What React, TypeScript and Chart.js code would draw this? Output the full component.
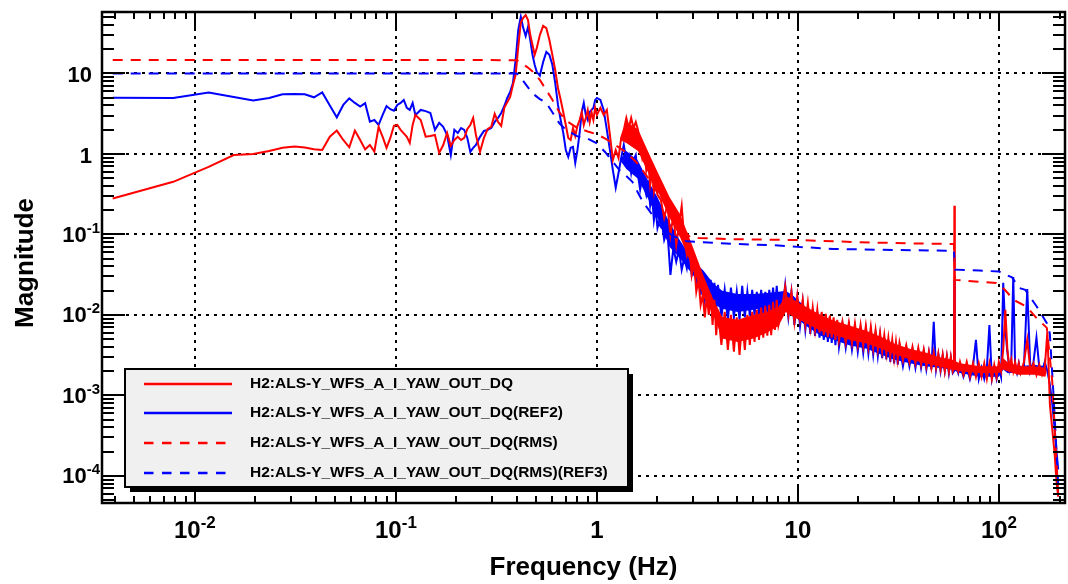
import { useEffect, useRef } from 'react';
import { Chart, registerables } from 'chart.js';

Chart.register(...registerables);

// ---------------- data ----------------
const X_MIN = 0.00345;
const X_MAX = 213;
const Y_MIN = 4.6e-5;
const Y_MAX = 58;

const xMajorTicks = [0.01, 0.1, 1, 10, 100];
const xTickBase = ['10', '10', '1', '10', '10'];
const xTickExp = ['-2', '-1', '', '', '2'];
const yMajorTicks = [1e-4, 1e-3, 1e-2, 1e-1, 1, 10];
const yTickBase = ['10', '10', '10', '10', '1', '10'];
const yTickExp = ['-4', '-3', '-2', '-1', '', ''];

const xTitle = 'Frequency (Hz)';
const yTitle = 'Magnitude';

const legendLabels = [
  'H2:ALS-Y_WFS_A_I_YAW_OUT_DQ',
  'H2:ALS-Y_WFS_A_I_YAW_OUT_DQ(REF2)',
  'H2:ALS-Y_WFS_A_I_YAW_OUT_DQ(RMS)',
  'H2:ALS-Y_WFS_A_I_YAW_OUT_DQ(RMS)(REF3)',
];

// shared frequency bins of the two spectra (Hz)
const freqHz = [
  0.0039, 0.0078, 0.0117, 0.0156, 0.0195, 0.0234, 0.0273, 0.0313, 0.0352, 0.0391,
  0.043, 0.0469, 0.0508, 0.0547, 0.0586, 0.0625, 0.0664, 0.0703, 0.0742, 0.0781,
  0.082, 0.0859, 0.0898, 0.0938, 0.0977, 0.1016, 0.1055, 0.1094, 0.1133, 0.1172,
  0.1211, 0.125,
  0.1328, 0.1406, 0.1484, 0.1563, 0.1641, 0.1719, 0.1797, 0.1875,
  0.1953, 0.2031, 0.2109, 0.2188, 0.2266, 0.2344, 0.2422, 0.25,
  0.262, 0.274, 0.286, 0.298, 0.31, 0.322, 0.334, 0.346, 0.358, 0.37,
  0.382, 0.394, 0.406, 0.418, 0.43, 0.442, 0.454, 0.466, 0.478, 0.49, 0.502,
  0.52, 0.54, 0.56, 0.58, 0.6, 0.62, 0.64, 0.66, 0.68, 0.7,
  0.72, 0.74, 0.76, 0.78, 0.8, 0.82, 0.84, 0.86, 0.88, 0.9,
  0.92, 0.94, 0.96, 0.98, 1.0,
  1.04, 1.08, 1.12, 1.16, 1.2, 1.24, 1.28, 1.32, 1.36, 1.4,
  1.44, 1.48, 1.52, 1.56, 1.6, 1.64, 1.68, 1.72, 1.76, 1.8,
  1.84, 1.88, 1.92, 1.96, 2.0,
  2.08, 2.16, 2.24, 2.32, 2.4, 2.48, 2.56, 2.64, 2.72, 2.8,
  2.88, 2.96, 3.04, 3.12, 3.2, 3.28, 3.36, 3.44, 3.52, 3.6,
  3.68, 3.76, 3.84, 3.92, 4.0,
  4.16, 4.32, 4.48, 4.64, 4.8, 4.96, 5.12, 5.28, 5.44, 5.6,
  5.76, 5.92, 6.08, 6.24, 6.4, 6.56, 6.72, 6.88, 7.04, 7.2,
  7.36, 7.52, 7.68, 7.84, 8.0,
  8.32, 8.64, 8.96, 9.28, 9.6, 9.92, 10.24, 10.56, 10.88, 11.2,
  11.52, 11.84, 12.16, 12.48, 12.8, 13.12, 13.44, 13.76, 14.08, 14.4,
  14.72, 15.04, 15.36, 15.68, 16.0,
  16.64, 17.28, 17.92, 18.56, 19.2, 19.84, 20.48, 21.12, 21.76, 22.4,
  23.04, 23.68, 24.32, 24.96, 25.6, 26.24, 26.88, 27.52, 28.16, 28.8,
  29.44, 30.08, 30.72, 31.36, 32.0,
  33.28, 34.56, 35.84, 37.12, 38.4, 39.68, 40.96, 42.24, 43.52, 44.8,
  46.08, 47.36, 48.64, 49.92, 51.2, 52.48, 53.76, 55.04, 56.32, 57.6,
  58.88,
  59.7, 60.0, 60.3, 61.44, 62.72, 64.0,
  66.56, 69.12, 71.68, 74.24, 76.8, 79.36, 81.92, 84.48, 87.04, 89.6,
  92.16, 94.72, 97.28, 99.84, 102.4, 104.96, 107.52, 110.08, 112.64, 115.2,
  117.76, 120.32, 122.88, 125.44, 128.0,
  133.12, 138.24, 143.36, 148.48, 153.6, 158.72, 163.84, 168.96, 174.08, 179.2,
  184.32, 189.44, 193.0, 197.0,
];

// H2:ALS-Y_WFS_A_I_YAW_OUT_DQ (red, solid)
const redMag = [
  0.28, 0.45, 0.69, 0.97, 1.0, 1.09, 1.19, 1.24, 1.2, 1.14,
  1.12, 1.64, 1.95, 1.49, 1.21, 1.95, 1.49, 1.14, 1.29, 1.07,
  2.17, 1.63, 1.19, 1.58, 2.23, 2.29, 1.99, 1.8, 1.63, 1.37,
  2.29, 3.05,
  2.64, 1.64, 1.67, 1.72, 1.03, 1.29, 1.82, 1.26,
  1.49, 1.63, 1.49, 1.58, 2.04, 2.29, 2.8, 1.72,
  1.06, 1.58, 2.04, 2.17, 3.14, 2.5, 2.23, 3.73, 4.4, 5.1,
  7.2, 9.6, 21.3, 43, 49, 53, 46, 30, 22.6, 17, 20.7,
  30, 39, 36.6, 26, 17, 11, 6.6, 4.7, 3.3, 2.29,
  1.58, 1.49, 2.1, 1.67, 2.23, 2.64, 3.3, 2.29, 2.8, 3.52,
  2.5, 3.3, 2.64, 3.73, 3.05,
  3.73, 3.05, 3.52, 1.72, 0.84, 1.12, 0.89, 1.58, 1.99, 2.8,
  2.1, 2.8, 2.1, 2.5, 1.99, 1.29, 0.89, 1.12, 0.63, 0.84,
  0.41, 0.58, 0.34, 0.475, 0.31,
  0.268, 0.16, 0.233, 0.098, 0.175, 0.074, 0.131, 0.226, 0.0855, 0.0557,
  0.074, 0.0314, 0.0457, 0.0194, 0.0272, 0.0133, 0.0177, 0.0093, 0.0172, 0.01,
  0.0177, 0.0075, 0.0154, 0.0056, 0.0116,
  0.00424, 0.0109, 0.00367, 0.01, 0.0035, 0.0093, 0.00318, 0.0087, 0.00367, 0.01,
  0.00424, 0.0109, 0.0046, 0.0116, 0.0049, 0.0123, 0.0052, 0.013, 0.0055, 0.0133,
  0.0056, 0.0145, 0.0065, 0.0154, 0.0075,
  0.0116, 0.0224, 0.01, 0.0194, 0.0082, 0.0172, 0.0087, 0.0154, 0.0075, 0.014,
  0.0069, 0.0123, 0.0065, 0.0116, 0.006, 0.0109, 0.0056, 0.0103, 0.0053, 0.0098,
  0.0052, 0.0093, 0.0049, 0.0087, 0.0048,
  0.0082, 0.0045, 0.008, 0.0044, 0.0078, 0.0042, 0.0075, 0.0041, 0.0073, 0.004,
  0.0071, 0.0038, 0.0065, 0.0037, 0.006, 0.0035, 0.0056, 0.0033, 0.0052, 0.0031,
  0.0049, 0.0029, 0.0046, 0.0028, 0.0045,
  0.0027, 0.0042, 0.0026, 0.004, 0.0025, 0.0039, 0.0024, 0.0037, 0.0023, 0.0035,
  0.0022, 0.0034, 0.0022, 0.0033, 0.0021, 0.0032, 0.002, 0.0031, 0.002, 0.003,
  0.002,
  0.0022, 0.227, 0.0024, 0.0024, 0.002, 0.0026,
  0.0018, 0.0026, 0.0017, 0.0025, 0.0017, 0.0025, 0.0017, 0.0025, 0.0016, 0.0025,
  0.0016, 0.0024, 0.0017, 0.0026, 0.002, 0.0037, 0.0116, 0.0037, 0.0022, 0.0028,
  0.002, 0.0026, 0.002, 0.0025, 0.0019,
  0.0026, 0.0049, 0.002, 0.0025, 0.0018, 0.0024, 0.0018, 0.0022, 0.0062, 0.00076,
  0.00037, 0.00018, 0.000088, 0.000055,
];

// H2:ALS-Y_WFS_A_I_YAW_OUT_DQ(REF2) (blue, solid)
const blueMag = [
  5.0, 4.95, 5.8, 5.1, 4.6, 4.95, 5.5, 5.55, 5.5, 5.05,
  5.8, 4.0, 2.85, 4.06, 4.9, 4.3, 3.87, 4.27, 2.52, 2.64,
  2.29, 3.05, 3.94, 3.6, 3.45, 4.06, 4.3, 4.69, 3.73, 3.52,
  4.3, 3.05,
  3.52, 3.4, 3.23, 1.99, 2.43, 2.17, 1.72, 0.97,
  1.99, 1.82, 2.1, 1.99, 1.58, 1.06, 1.19, 1.29,
  1.63, 1.93, 1.99, 2.1, 2.5, 2.8, 3.23, 3.94, 4.96, 5.9,
  7.6, 14.7, 34.7, 50.5, 36.6, 29.2, 37.8, 26, 17, 12.8, 10.4,
  9.4, 13.9, 18.5, 17, 12.8, 7.6, 4.06, 2.64, 1.82, 1.12,
  0.92, 1.19, 1.22, 0.77, 1.12, 1.82, 3.3, 4.3, 3.05, 2.64,
  3.3, 3.52, 3.73, 4.69, 4.96,
  4.69, 3.52, 1.99, 1.12, 0.63, 0.38, 0.58, 0.89, 1.29, 0.84,
  0.97, 0.58, 0.84, 0.97, 0.55, 0.36, 0.5, 0.4, 0.31, 0.41,
  0.23, 0.31, 0.15, 0.21, 0.12,
  0.175, 0.0855, 0.114, 0.0314, 0.068, 0.0457, 0.0643, 0.0363, 0.051, 0.038,
  0.0643, 0.0314, 0.0418, 0.025, 0.0363, 0.0177, 0.0314, 0.0154, 0.0236, 0.0133,
  0.0272, 0.0133, 0.025, 0.0116, 0.0236,
  0.0093, 0.0205, 0.0087, 0.0218, 0.0093, 0.0194, 0.0087, 0.023, 0.0093, 0.0194,
  0.0098, 0.0205, 0.0098, 0.0194, 0.0103, 0.0205, 0.0103, 0.0194, 0.0109, 0.0205,
  0.0109, 0.0218, 0.0116, 0.023, 0.0123,
  0.01, 0.0236, 0.0093, 0.0194, 0.0075, 0.0163, 0.0073, 0.0145, 0.0065, 0.0126,
  0.0058, 0.0116, 0.0055, 0.0109, 0.0052, 0.0103, 0.0049, 0.0098, 0.0046, 0.0093,
  0.0045, 0.0087, 0.0042, 0.0082, 0.004,
  0.0078, 0.0039, 0.0073, 0.0037, 0.0069, 0.0035, 0.0067, 0.0034, 0.0065, 0.0033,
  0.0062, 0.0032, 0.0058, 0.0031, 0.0055, 0.0029, 0.0052, 0.0028, 0.0049, 0.0026,
  0.0046, 0.0025, 0.0044, 0.0024, 0.0041,
  0.0023, 0.0039, 0.0023, 0.0037, 0.0022, 0.0036, 0.0022, 0.0035, 0.0021, 0.0034,
  0.0021, 0.0082, 0.0021, 0.0032, 0.002, 0.0031, 0.002, 0.003, 0.0019, 0.0029,
  0.0019,
  0.002, 0.027, 0.0022, 0.0023, 0.0019, 0.0024,
  0.0017, 0.0023, 0.0016, 0.0023, 0.0049, 0.0016, 0.0022, 0.0016, 0.0022, 0.0075,
  0.0016, 0.0022, 0.0016, 0.0022, 0.0017, 0.025, 0.0065, 0.0035, 0.0021, 0.0028,
  0.0295, 0.0023, 0.0019, 0.0025, 0.0019,
  0.0023, 0.021, 0.002, 0.0026, 0.0052, 0.0022, 0.002, 0.0026, 0.002, 0.00135,
  0.00076, 0.00037, 0.00021, 0.00012,
];

// dense core of the noise of each spectrum (upper / lower edge)
const bandFreq = [
  1.3, 1.4, 1.6, 1.8, 2.0, 2.3, 2.6, 3.0, 3.4, 3.8, 4.2, 5.0, 6.0, 7.0, 8.0, 8.7, 9.5, 11,
  13, 15, 18, 22, 26, 30, 36, 43, 50, 58, 64, 80, 100, 105, 110, 125, 150, 170, 173,
];
const redUpper = [
  1.49, 2.5, 2.04, 1.06, 0.6, 0.29, 0.175, 0.07, 0.03, 0.0154, 0.0094, 0.0087, 0.01, 0.0109,
  0.0125, 0.0172, 0.0154, 0.0125, 0.01, 0.0085, 0.0074, 0.0063, 0.0053, 0.0044, 0.0038,
  0.0034, 0.003, 0.0028, 0.0025, 0.0023, 0.0023, 0.0029, 0.0026, 0.0023, 0.0023, 0.0022,
  0.002,
];
const redLower = [
  1.49, 1.37, 1.09, 0.58, 0.35, 0.16, 0.09, 0.038, 0.0163, 0.01, 0.0051, 0.0046, 0.0051,
  0.006, 0.0073, 0.0109, 0.0094, 0.0079, 0.0063, 0.0057, 0.0049, 0.0044, 0.0038, 0.0033,
  0.0028, 0.0025, 0.0023, 0.0021, 0.002, 0.0019, 0.0019, 0.0021, 0.002, 0.0018, 0.0018,
  0.0017, 0.002,
];
const blueUpper = [
  0.84, 1.09, 0.82, 0.46, 0.29, 0.139, 0.083, 0.048, 0.035, 0.0243, 0.02, 0.0182, 0.0182,
  0.0187, 0.0194, 0.02, 0.0172, 0.0122, 0.0093, 0.008, 0.0063, 0.0057, 0.0048, 0.004,
  0.0035, 0.0032, 0.0029, 0.0028, 0.0023, 0.0021, 0.0021, 0.0029, 0.0024, 0.0023, 0.0024,
  0.0023, 0.0021,
];
const blueLower = [
  0.84, 0.65, 0.49, 0.276, 0.16, 0.07, 0.05, 0.0314, 0.021, 0.0137, 0.0119, 0.0109, 0.0116,
  0.0125, 0.0133, 0.0119, 0.0098, 0.0073, 0.0055, 0.0049, 0.0042, 0.0038, 0.0032, 0.0028,
  0.0025, 0.0023, 0.0022, 0.0021, 0.0019, 0.0017, 0.0017, 0.0021, 0.0019, 0.0019, 0.002,
  0.0019, 0.0021,
];

// RMS (red, dashed)
const redRmsFreq = [
  0.0039, 0.2, 0.4, 0.42, 0.45, 0.48, 0.52, 0.56, 0.6, 0.65, 0.7, 0.8, 0.9, 1.0, 1.1, 1.2,
  1.4, 1.6, 1.8, 2.0, 2.3, 2.6, 2.9, 3.2, 5, 10, 20, 40, 59.7, 60.3, 97, 107, 118, 137, 154,
  173, 184, 197,
];
const redRmsMag = [
  14.7, 14.7, 14.6, 13.5, 12.0, 10.5, 8.3, 6.2, 4.7, 3.3, 2.6, 2.1, 1.9, 1.75, 1.55, 1.35,
  1.05, 0.75, 0.5, 0.33, 0.2, 0.13, 0.092, 0.09, 0.087, 0.085, 0.08, 0.077, 0.076, 0.0272,
  0.0249, 0.0205, 0.0154, 0.0127, 0.0091, 0.0069, 0.0015, 0.00006,
];

// RMS (REF3) (blue, dashed)
const blueRmsFreq = [
  0.0039, 0.2, 0.4, 0.42, 0.45, 0.48, 0.52, 0.56, 0.6, 0.65, 0.7, 0.8, 0.9, 1.0, 1.1, 1.2,
  1.3, 1.4, 1.5, 1.6, 1.7, 1.9, 2.1, 2.4, 2.8, 5, 8, 10, 15, 30, 59.7, 60.3, 80, 100, 110,
  116, 126, 135, 154, 173, 179, 186, 197,
];
const blueRmsMag = [
  10.0, 10.0, 10.0, 8.7, 6.9, 5.6, 4.8, 4.3, 3.3, 2.4, 2.0, 1.65, 1.55, 1.35, 1.05, 0.8,
  0.62, 0.53, 0.45, 0.33, 0.25, 0.17, 0.12, 0.095, 0.082, 0.076, 0.073, 0.07, 0.066, 0.064,
  0.0625, 0.0365, 0.0355, 0.0346, 0.031, 0.0294, 0.0216, 0.0205, 0.0127, 0.0079, 0.0059,
  0.0012, 0.00008,
];

// ---------------- drawing helpers ----------------
const FONT = '"Liberation Sans", Arial, Helvetica, sans-serif';
const RED = '#ff0000';
const BLUE = '#0000ff';
const CLEAR = 'rgba(0,0,0,0)';

function pts(fs: number[], vs: number[]) {
  return fs.map((f, i) => ({ x: f, y: vs[i] }));
}

function logTicks(min: number, max: number) {
  const out: { v: number; major: boolean }[] = [];
  for (let d = Math.floor(Math.log10(min)); d <= Math.ceil(Math.log10(max)); d++) {
    for (let m = 1; m <= 9; m++) {
      const v = m * Math.pow(10, d);
      if (v >= min && v <= max) out.push({ v, major: m === 1 });
    }
  }
  return out;
}

const rootStyle = {
  id: 'rootStyle',
  beforeDatasetsDraw(chart: any) {
    const { ctx, chartArea: a } = chart;
    const xs = chart.scales.x;
    const ys = chart.scales.y;
    ctx.save();
    ctx.strokeStyle = '#000';
    ctx.lineWidth = 2;
    ctx.setLineDash([3, 5]);
    xMajorTicks.forEach((v) => {
      const p = Math.round(xs.getPixelForValue(v));
      ctx.beginPath();
      ctx.moveTo(p, a.bottom);
      ctx.lineTo(p, a.top);
      ctx.stroke();
    });
    yMajorTicks.forEach((v) => {
      const p = Math.round(ys.getPixelForValue(v));
      ctx.beginPath();
      ctx.moveTo(a.left, p);
      ctx.lineTo(a.right, p);
      ctx.stroke();
    });
    ctx.restore();
  },
  afterDatasetsDraw(chart: any) {
    const { ctx, chartArea: a } = chart;
    const xs = chart.scales.x;
    const ys = chart.scales.y;
    ctx.save();
    ctx.setLineDash([]);
    ctx.strokeStyle = '#000';
    ctx.fillStyle = '#000';

    // ticks
    ctx.lineWidth = 2;
    logTicks(X_MIN, X_MAX).forEach(({ v, major }) => {
      const p = Math.round(xs.getPixelForValue(v));
      const len = major ? 16 : 7;
      ctx.beginPath();
      ctx.moveTo(p, a.bottom);
      ctx.lineTo(p, a.bottom - len);
      ctx.moveTo(p, a.top);
      ctx.lineTo(p, a.top + len);
      ctx.stroke();
    });
    logTicks(Y_MIN, Y_MAX).forEach(({ v, major }) => {
      const p = Math.round(ys.getPixelForValue(v));
      const len = major ? 23 : 12;
      ctx.beginPath();
      ctx.moveTo(a.left, p);
      ctx.lineTo(a.left + len, p);
      ctx.moveTo(a.right, p);
      ctx.lineTo(a.right - len, p);
      ctx.stroke();
    });

    // frame
    ctx.lineWidth = 2.5;
    ctx.strokeRect(a.left, a.top, a.right - a.left, a.bottom - a.top);

    // x tick labels
    ctx.textBaseline = 'alphabetic';
    ctx.textAlign = 'left';
    xMajorTicks.forEach((v, i) => {
      const p = xs.getPixelForValue(v);
      ctx.font = `bold 24px ${FONT}`;
      const wb = ctx.measureText(xTickBase[i]).width;
      ctx.font = `bold 17px ${FONT}`;
      const we = xTickExp[i] ? ctx.measureText(xTickExp[i]).width : 0;
      const x0 = p - (wb + we) / 2;
      ctx.font = `bold 24px ${FONT}`;
      ctx.fillText(xTickBase[i], x0, 538);
      if (xTickExp[i]) {
        ctx.font = `bold 17px ${FONT}`;
        ctx.fillText(xTickExp[i], x0 + wb, 528);
      }
    });

    // y tick labels
    yMajorTicks.forEach((v, i) => {
      const p = ys.getPixelForValue(v);
      if (yTickExp[i]) {
        ctx.font = `bold 15px ${FONT}`;
        const we = ctx.measureText(yTickExp[i]).width;
        ctx.textAlign = 'right';
        ctx.fillText(yTickExp[i], 100, p - 1.5);
        ctx.font = `bold 22px ${FONT}`;
        ctx.fillText(yTickBase[i], 100 - we, p + 7.5);
      } else {
        ctx.font = `bold 22px ${FONT}`;
        ctx.textAlign = 'right';
        ctx.fillText(yTickBase[i], 92, p + 9);
      }
    });

    // axis titles
    ctx.font = `bold 26px ${FONT}`;
    ctx.textAlign = 'center';
    ctx.fillText(xTitle, (a.left + a.right) / 2, 575);
    ctx.save();
    ctx.translate(33, 263);
    ctx.rotate(-Math.PI / 2);
    ctx.fillText(yTitle, 0, 0);
    ctx.restore();

    // legend
    const L = { left: 125, top: 369, right: 628, bottom: 487 };
    const w = L.right - L.left;
    const h = L.bottom - L.top;
    ctx.fillStyle = '#000';
    ctx.fillRect(L.left + 5, L.top + 5, w, h);
    ctx.fillStyle = '#f0f0f0';
    ctx.fillRect(L.left, L.top, w, h);
    ctx.lineWidth = 2;
    ctx.strokeStyle = '#000';
    ctx.strokeRect(L.left, L.top, w, h);
    const rows = [384, 413, 443, 473];
    const colors = [RED, BLUE, RED, BLUE];
    rows.forEach((ry, i) => {
      ctx.strokeStyle = colors[i];
      ctx.lineWidth = 2.5;
      ctx.setLineDash(i >= 2 ? [9.5, 8.5] : []);
      ctx.beginPath();
      ctx.moveTo(144, ry);
      ctx.lineTo(232, ry);
      ctx.stroke();
      ctx.setLineDash([]);
      ctx.fillStyle = '#000';
      ctx.font = `bold 15.5px ${FONT}`;
      ctx.textAlign = 'left';
      ctx.textBaseline = 'middle';
      ctx.fillText(legendLabels[i], 250, ry);
    });
    ctx.restore();
  },
};

export default function App() {
  const ref = useRef<HTMLCanvasElement>(null);
  useEffect(() => {
    const canvas = ref.current;
    if (!canvas) return;
    const chart = new Chart(canvas, {
      type: 'line',
      data: {
        datasets: [
          {
            label: legendLabels[2],
            data: pts(redRmsFreq, redRmsMag),
            borderColor: RED,
            borderWidth: 2,
            borderDash: [10, 8],
            pointRadius: 0,
            fill: false,
            order: 0,
          },
          {
            label: legendLabels[3],
            data: pts(blueRmsFreq, blueRmsMag),
            borderColor: BLUE,
            borderWidth: 2,
            borderDash: [10, 8],
            pointRadius: 0,
            fill: false,
            order: 1,
          },
          {
            label: legendLabels[0],
            data: pts(freqHz, redMag),
            borderColor: RED,
            borderWidth: 2,
            pointRadius: 0,
            fill: false,
            order: 2,
          },
          {
            label: 'red noise lower',
            data: pts(bandFreq, redLower),
            borderColor: CLEAR,
            borderWidth: 1,
            pointRadius: 0,
            fill: false,
            order: 4,
          },
          {
            label: 'red noise upper',
            data: pts(bandFreq, redUpper),
            borderColor: CLEAR,
            backgroundColor: RED,
            borderWidth: 1,
            pointRadius: 0,
            fill: 3,
            order: 3,
          },
          {
            label: legendLabels[1],
            data: pts(freqHz, blueMag),
            borderColor: BLUE,
            borderWidth: 2,
            pointRadius: 0,
            fill: false,
            order: 5,
          },
          {
            label: 'blue noise lower',
            data: pts(bandFreq, blueLower),
            borderColor: CLEAR,
            borderWidth: 1,
            pointRadius: 0,
            fill: false,
            order: 7,
          },
          {
            label: 'blue noise upper',
            data: pts(bandFreq, blueUpper),
            borderColor: CLEAR,
            backgroundColor: BLUE,
            borderWidth: 1,
            pointRadius: 0,
            fill: 6,
            order: 6,
          },
        ],
      },
      options: {
        responsive: false,
        animation: false,
        events: [],
        layout: { padding: { left: 102, right: 3, top: 12, bottom: 81 } },
        elements: { line: { tension: 0 }, point: { radius: 0 } },
        scales: {
          x: { type: 'logarithmic', min: X_MIN, max: X_MAX, display: false },
          y: { type: 'logarithmic', min: Y_MIN, max: Y_MAX, display: false },
        },
        plugins: {
          legend: { display: false },
          tooltip: { enabled: false },
          filler: { propagate: false },
        },
      },
      plugins: [rootStyle],
    });
    return () => chart.destroy();
  }, []);
  return (
    <div style={{ position: 'fixed', left: 0, top: 0, width: 1068, height: 584, background: '#fff' }}>
      <canvas ref={ref} width={1068} height={584} style={{ display: 'block', width: 1068, height: 584 }} />
    </div>
  );
}
